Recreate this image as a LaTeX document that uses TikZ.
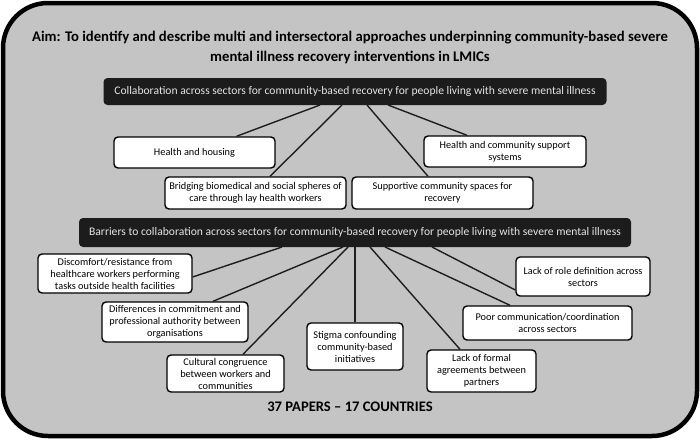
\documentclass[tikz,border=0pt]{standalone}
\usepackage{fontspec}
\setmainfont{Carlito}
\definecolor{bggray}{HTML}{C4C4C4}
\definecolor{hdark}{HTML}{1C1C1C}
\definecolor{htext}{HTML}{E4E4E4}
\definecolor{lnk}{HTML}{1E1E1E}
\begin{document}
\begin{tikzpicture}[x=1pt,y=-1pt,
  hdr/.style={fill=hdark,draw=none,rounded corners=4pt,text=htext,inner sep=0pt,font=\fontsize{11.6}{13}\selectfont},
  wbox/.style={fill=white,draw=black,line width=1.4pt,rounded corners=4pt,align=center,inner sep=1pt,font=\fontsize{10.3}{12}\selectfont},
  conn/.style={draw=lnk,line width=1.4pt}]
\useasboundingbox (0,0) rectangle (700,439);
\path[fill=white] (0,0) rectangle (700,439);
\draw[fill=bggray,line width=4.5pt,rounded corners=45pt] (3,3) rectangle (697,436);
\node[font=\bfseries\fontsize{14.7}{20}\selectfont,align=center] (title) at (350,47) {Aim: To identify and describe multi and intersectoral approaches underpinning community-based severe\\mental illness recovery interventions in LMICs};
% header 1
\node[hdr,minimum width=503pt,minimum height=27pt] (h1) at (355,91.5) {Collaboration across sectors for community-based recovery for people living with severe mental illness};
\node[wbox,minimum width=161pt,minimum height=31pt] (hh) at (194.5,152.5) {Health and housing};
\node[wbox,minimum width=162pt,minimum height=31pt] (hcs) at (505,151.5) {Health and community support\\systems};
\node[wbox,minimum width=181pt,minimum height=32pt] (brid) at (255.5,193) {Bridging biomedical and social spheres of\\care through lay health workers};
\node[wbox,minimum width=181pt,minimum height=32pt] (supp) at (442.5,193) {Supportive community spaces for\\recovery};
\coordinate (a1) at (320,105);
\coordinate (a2) at (342,105);
\coordinate (a3) at (367,105);
\coordinate (a4) at (388,105);
\draw[conn] (a1) -- ([xshift=42pt]hh.north);
\draw[conn] (a2) -- ([xshift=14.5pt]brid.north);
\draw[conn] (a3) -- ([xshift=-14.5pt]supp.north);
\draw[conn] (a4) -- ([xshift=-38pt]hcs.north);
% header 2
\node[hdr,minimum width=552pt,minimum height=29pt] (h2) at (355,232.5) {Barriers to collaboration across sectors for community-based recovery for people living with severe mental illness};
\node[wbox,minimum width=154pt,minimum height=39pt] (disc) at (115,273.5) {Discomfort/resistance from\\healthcare workers performing\\tasks outside health facilities};
\node[wbox,minimum width=146pt,minimum height=40pt] (diff) at (175,322) {Differences in commitment and\\professional authority between\\organisations};
\node[wbox,minimum width=117pt,minimum height=37pt] (cult) at (225.5,373.5) {Cultural congruence\\between workers and\\communities};
\node[wbox,minimum width=96pt,minimum height=47pt] (stig) at (355,346.5) {Stigma confounding\\community-based\\initiatives};
\node[wbox,minimum width=109pt,minimum height=42pt] (form) at (481.5,371) {Lack of formal\\agreements between\\partners};
\node[wbox,minimum width=169pt,minimum height=34pt] (poor) at (547.5,323) {Poor communication/coordination\\across sectors};
\node[wbox,minimum width=134pt,minimum height=39pt] (role) at (583,276.5) {Lack of role definition across\\sectors};
\coordinate (b1) at (282,247);
\coordinate (b2) at (343,247);
\coordinate (b3) at (348,247);
\coordinate (b4) at (355,247);
\coordinate (b5) at (370,247);
\coordinate (b6) at (385,247);
\coordinate (b7) at (432,247);
\draw[conn] (b1) -- ([yshift=-3.5pt]disc.east);
\draw[conn] (b2) -- ([xshift=38pt]diff.north);
\draw[conn] (b3) -- ([xshift=17.5pt]cult.north);
\draw[conn] (b4) -- (stig.north);
\draw[conn] (b5) -- ([xshift=-21.5pt]form.north);
\draw[conn] (b6) -- ([xshift=-37.5pt]poor.north);
\draw[conn] (b7) -- ([yshift=-13.5pt]role.west);
\node[font=\bfseries\fontsize{14.6}{17}\selectfont] (foot) at (350,407) {37 PAPERS -- 17 COUNTRIES};
\end{tikzpicture}
\end{document}
